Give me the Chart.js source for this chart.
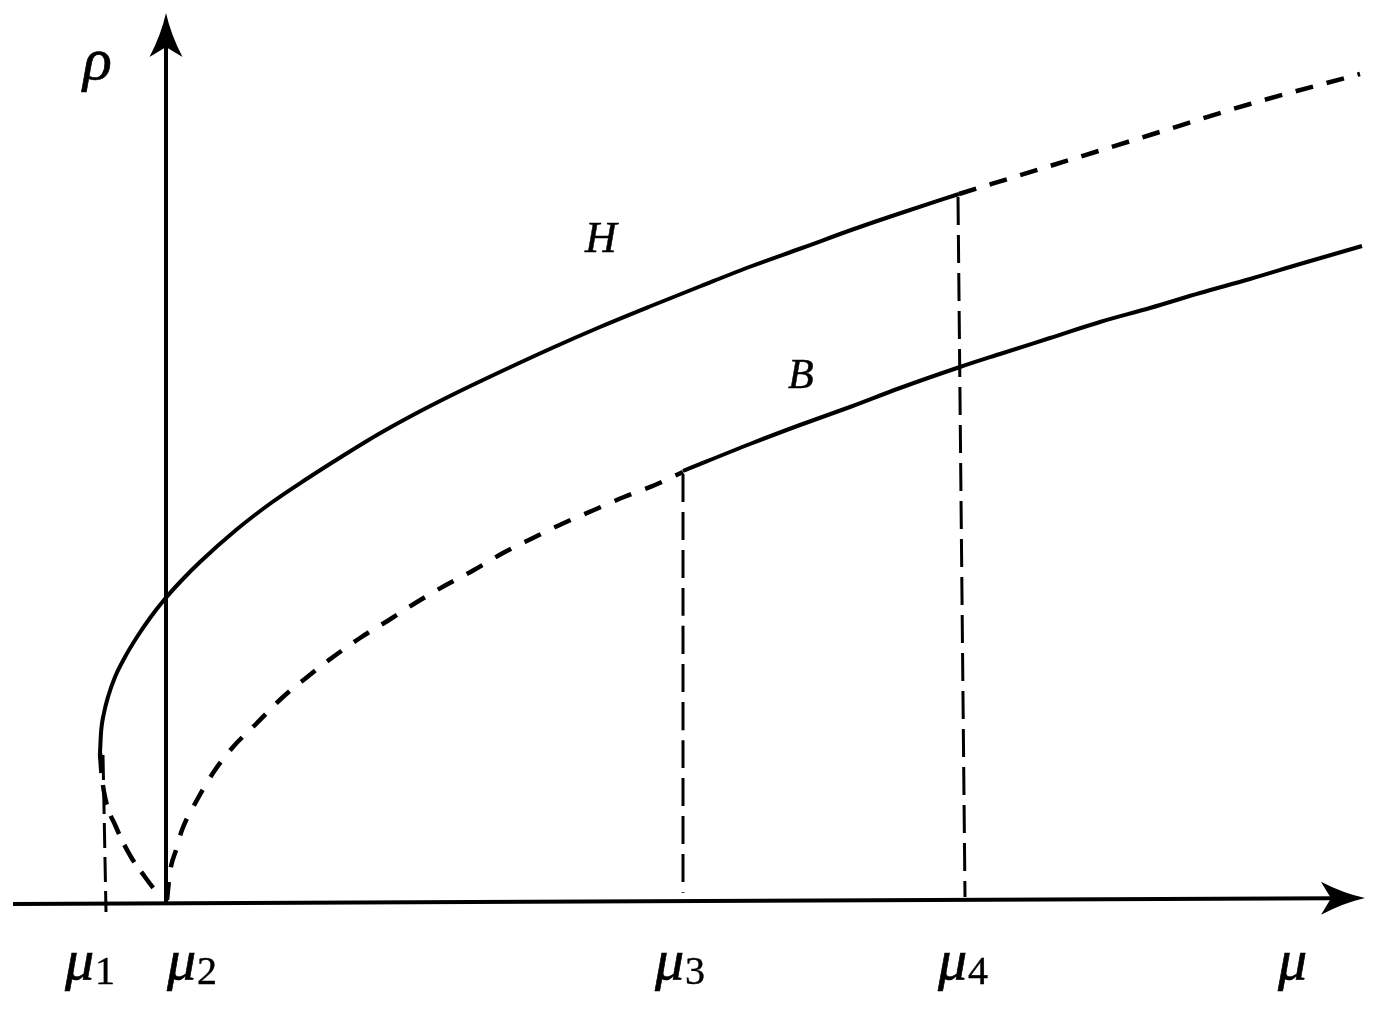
<!DOCTYPE html>
<html>
<head>
<meta charset="utf-8">
<script src="https://cdn.jsdelivr.net/npm/chart.js@4/dist/chart.umd.min.js"></script>
<style>
  html, body { margin: 0; padding: 0; background: #fff; }
  #wrap { width: 1386px; height: 1016px; position: relative; }
</style>
</head>
<body>
<div id="wrap"><canvas id="chart"></canvas></div>
<script>
// ---- DATA (mu on x, rho on y, arbitrary units, origin at mu2) ----

// H branch, stable part: from the fold near mu1 up to mu4
const hStable = [
    [-0.66, 1.50], [-0.65, 1.70], [-0.62, 1.90], [-0.58, 2.06], [-0.51, 2.26],
    [-0.41, 2.46], [-0.29, 2.66], [-0.16, 2.85], [-0.02, 3.03], [0.16, 3.23],
    [0.34, 3.41], [0.70, 3.73], [1.05, 4.00], [1.39, 4.23], [1.75, 4.46],
    [2.11, 4.68], [2.47, 4.88], [2.82, 5.06], [3.17, 5.23], [3.86, 5.55],
    [4.34, 5.76], [4.85, 5.97], [5.35, 6.17], [5.86, 6.37], [6.36, 6.55],
    [6.88, 6.74], [7.38, 6.91], [7.93, 7.09]
];
// H branch past mu4 (unstable)
const hUnstableRight = [
    [7.93, 7.09], [8.84, 7.37], [9.84, 7.68], [10.84, 7.99], [11.94, 8.29]
];
// H branch below the fold (unstable), going down towards mu2
const hUnstableFold = [
    [-0.66, 1.50], [-0.645, 1.30], [-0.61, 1.06], [-0.50, 0.76],
    [-0.35, 0.46], [-0.21, 0.26], [-0.09, 0.10]
];
// B branch, unstable part from mu2 to mu3
const bUnstable = [
    [0.01, 0.03], [0.04, 0.31], [0.10, 0.53], [0.16, 0.73], [0.31, 1.03],
    [0.47, 1.30], [0.67, 1.56], [0.91, 1.80], [1.17, 2.06], [1.40, 2.25],
    [1.67, 2.46], [1.94, 2.65], [2.23, 2.83], [2.51, 3.01], [2.80, 3.18],
    [3.08, 3.33], [3.37, 3.50], [3.67, 3.65], [3.98, 3.80], [4.28, 3.93],
    [4.58, 4.06], [4.89, 4.18], [5.17, 4.31]
];
// B branch, stable part from mu3 on
const bStable = [
    [5.17, 4.32], [5.84, 4.59], [6.34, 4.78], [6.84, 4.96], [7.34, 5.15],
    [7.94, 5.36], [8.34, 5.49], [8.84, 5.65], [9.34, 5.81], [9.84, 5.95],
    [10.34, 6.10], [10.84, 6.24], [11.34, 6.39], [11.96, 6.57]
];
// vertical markers at mu1, mu3, mu4
const mu1Line = [[-0.63, 1.48], [-0.60, -0.09]];
const mu3Line = [[5.17, 4.29], [5.17, 0.10]];
const mu4Line = [[7.92, 7.06], [7.99, 0.06]];

// axes: start point and arrow tip
const rhoAxis = [[0, 0.01], [0, 8.90]];
const muAxis = [[-1.53, -0.01], [11.99, 0.05]];

// tick labels under the mu axis
const tickSubs = ["1", "2", "3", "4"];
const tickLabelX = [-1.01, 0.01, 4.89, 7.72];

// ---- LABEL PLACEMENT ----
const labelBaseY = -0.76;
const textLabels = [
    { text: "ρ", x: -0.83, y: 8.24, size: 60 },
    { text: "H", x: 4.19, y: 6.51, size: 44 },
    { text: "B", x: 6.22, y: 5.15, size: 42 },
    { text: "μ", x: 11.12, y: labelBaseY, size: 58 }
];

const serif = "'Liberation Serif', 'DejaVu Serif', serif";
const toPts = arr => arr.map(p => ({ x: p[0], y: p[1] }));

function lineSet(points, width, dash) {
    return {
        data: toPts(points),
        showLine: true,
        borderColor: "#000",
        borderWidth: width,
        borderDash: dash,
        pointRadius: 0,
        fill: false,
        cubicInterpolationMode: "monotone",
        borderCapStyle: "butt"
    };
}

// text with a thin outline so it looks closer to the TeX glyph weight
function heavyText(ctx, text, x, y, stroke) {
    ctx.fillText(text, x, y);
    if (stroke) {
        ctx.lineWidth = stroke;
        ctx.strokeStyle = "#000";
        ctx.strokeText(text, x, y);
    }
}

// ---- AXES + ARROWS + LABELS PLUGIN ----
const diagramPlugin = {
    id: "diagram",
    beforeDatasetsDraw(chart) {
        const ctx = chart.ctx;
        const xs = chart.scales.x, ys = chart.scales.y;
        for (let axis of [rhoAxis, muAxis]) {
            const x0 = xs.getPixelForValue(axis[0][0]);
            const y0 = ys.getPixelForValue(axis[0][1]);
            const x1 = xs.getPixelForValue(axis[1][0]);
            const y1 = ys.getPixelForValue(axis[1][1]);
            const len = Math.hypot(x1 - x0, y1 - y0);
            const ux = (x1 - x0) / len, uy = (y1 - y0) / len;
            const nx = -uy, ny = ux;
            const headLen = 44, halfW = 16.5, notch = 10;

            // shaft
            ctx.save();
            ctx.strokeStyle = "#000";
            ctx.lineWidth = 4;
            ctx.beginPath();
            ctx.moveTo(x0, y0);
            ctx.lineTo(x1 - ux * (headLen - notch - 2), y1 - uy * (headLen - notch - 2));
            ctx.stroke();

            // arrow head
            const bx = x1 - ux * headLen, by = y1 - uy * headLen;
            const mx = x1 - ux * (headLen - notch), my = y1 - uy * (headLen - notch);
            ctx.fillStyle = "#000";
            ctx.beginPath();
            ctx.moveTo(x1, y1);
            ctx.quadraticCurveTo(x1 - ux * 22 + nx * 5, y1 - uy * 22 + ny * 5, bx + nx * halfW, by + ny * halfW);
            ctx.lineTo(mx, my);
            ctx.lineTo(bx - nx * halfW, by - ny * halfW);
            ctx.quadraticCurveTo(x1 - ux * 22 - nx * 5, y1 - uy * 22 - ny * 5, x1, y1);
            ctx.fill();
            ctx.restore();
        }
    },
    afterDraw(chart) {
        const ctx = chart.ctx;
        const xs = chart.scales.x, ys = chart.scales.y;
        ctx.save();
        ctx.fillStyle = "#000";
        ctx.textBaseline = "alphabetic";
        ctx.textAlign = "left";

        for (let l of textLabels) {
            ctx.font = "italic " + l.size + "px " + serif;
            heavyText(ctx, l.text, xs.getPixelForValue(l.x), ys.getPixelForValue(l.y), l.size > 50 ? 0.7 : 0.5);
        }

        // mu_i tick labels
        for (let i = 0; i < tickSubs.length; i++) {
            const px = xs.getPixelForValue(tickLabelX[i]);
            const py = ys.getPixelForValue(labelBaseY);
            ctx.font = "italic 58px " + serif;
            heavyText(ctx, "μ", px, py, 0.7);
            const w = ctx.measureText("μ").width;
            ctx.font = "40px " + serif;
            heavyText(ctx, tickSubs[i], px + w + 1, py + 5, 0.4);
        }
        ctx.restore();
    }
};

new Chart(document.getElementById("chart").getContext("2d"), {
    type: "scatter",
    data: {
        datasets: [
            lineSet(hStable, 4, []),
            lineSet(hUnstableRight, 4.5, [18, 14]),
            lineSet(hUnstableFold, 4.5, [20, 12]),
            lineSet(bUnstable, 4.5, [18, 15]),
            lineSet(bStable, 4, []),
            lineSet(mu1Line, 3, [25, 9]),
            lineSet(mu3Line, 3, [28, 10]),
            lineSet(mu4Line, 3, [28, 10])
        ]
    },
    options: {
        responsive: true,
        maintainAspectRatio: false,
        animation: false,
        layout: { padding: 0 },
        plugins: { legend: { display: false }, tooltip: { enabled: false } },
        scales: {
            x: { type: "linear", min: -1.66, max: 12.20, display: false },
            y: { type: "linear", min: -1.13, max: 9.03, display: false }
        }
    },
    plugins: [diagramPlugin]
});
</script>
</body>
</html>
